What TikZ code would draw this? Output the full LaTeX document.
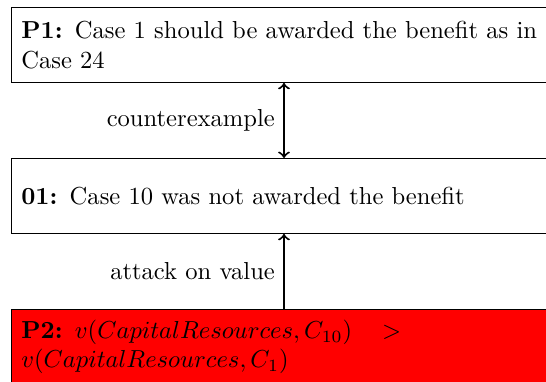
\documentclass[tikz,border=0pt]{standalone}
\begin{document}
\begin{tikzpicture}[x=0.4068pt,y=-0.4068pt,
  claim/.style={draw=black, line width=0.4pt, anchor=north west,
    text width=222pt, align=left, inner xsep=4pt, minimum height=30.5pt},
  link/.style={thick}]
\useasboundingbox (0,0) rectangle (546,381);
\node[claim] (p1) at (11,7) {\textbf{P1:} Case 1 should be awarded the benefit as in Case 24};
\node[claim] (o1) at (11,158) {\textbf{01:} Case 10 was not awarded the benefit};
\node[claim, fill=red] (p2) at (11,309) {\textbf{P2:} $v(Capital Resources, C_{10}) > v(Capital Resources, C_1)$};
\coordinate (ax) at (284,0);
\draw[link,<->] (p1.south -| ax) -- node[left] {counterexample} (o1.north -| ax);
\draw[link,->] (p2.north -| ax) -- node[left] {attack on value} (o1.south -| ax);
\end{tikzpicture}
\end{document}
